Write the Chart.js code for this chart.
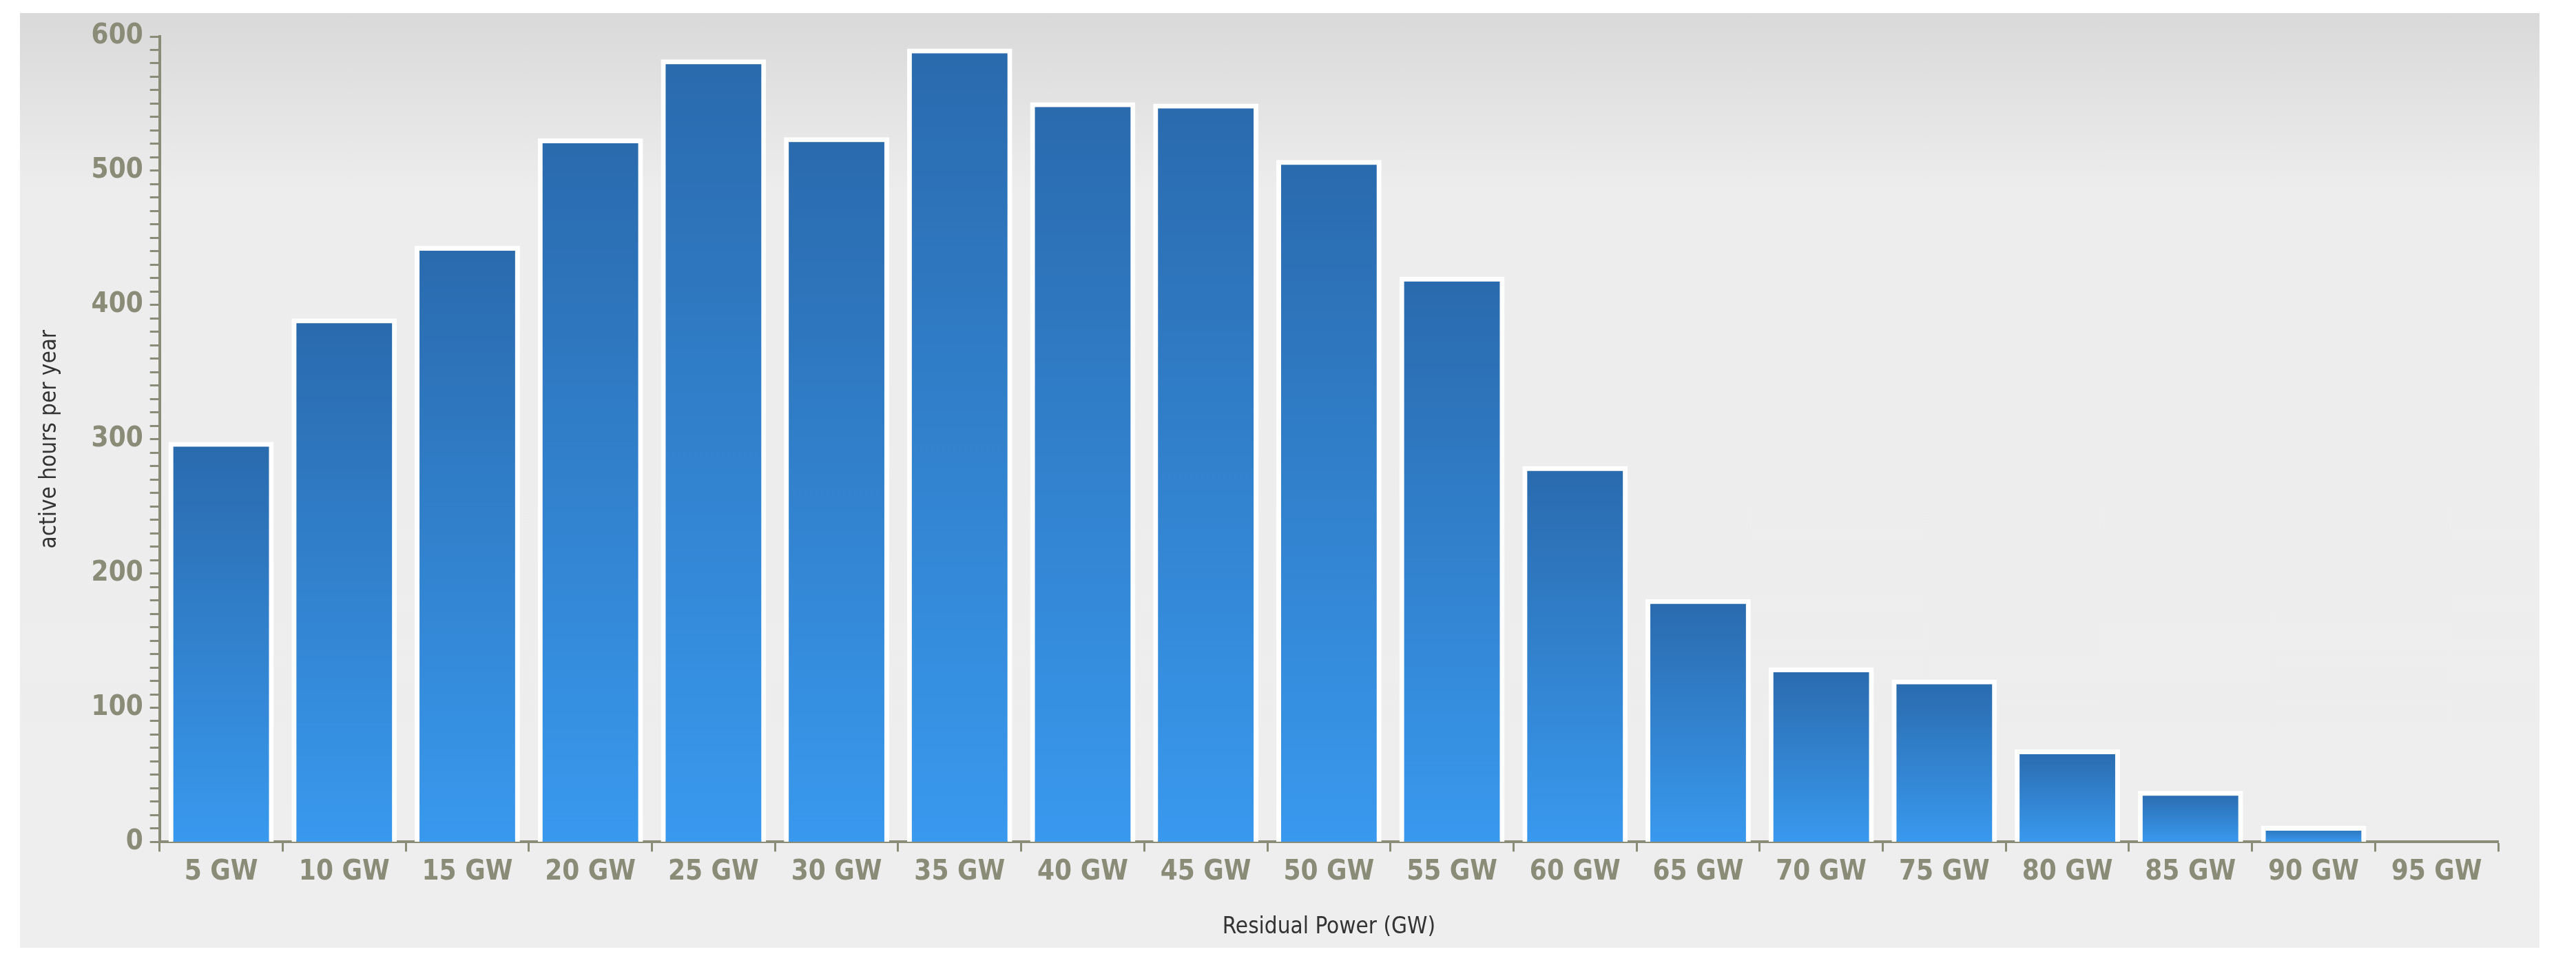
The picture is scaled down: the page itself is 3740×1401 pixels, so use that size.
<!DOCTYPE html>
<html>
<head>
<meta charset="utf-8">
<script src="https://cdn.jsdelivr.net/npm/chart.js@4"></script>
<style>
  html, body { margin: 0; padding: 0; background: #ffffff; }
  #panel {
    position: absolute; left: 29px; top: 19px; width: 3658px; height: 1357px;
    background: linear-gradient(to bottom, #d9d9d9 0px, #ededed 260px, #eeeeee 100%);
  }
  #residualChart { width: 3658px; height: 1357px; display: block; }
</style>
</head>
<body>
<div id="panel"><canvas id="residualChart" width="3658" height="1357"></canvas></div>
<script>
// Données
const categories = ['5 GW','10 GW','15 GW','20 GW','25 GW','30 GW','35 GW','40 GW','45 GW','50 GW',
                    '55 GW','60 GW','65 GW','70 GW','75 GW','80 GW','85 GW','90 GW','95 GW'];
const activeHours = [298, 390, 444, 524, 583, 525, 591, 551, 550, 508,
                     421, 280, 181, 130, 121, 69, 38, 12, 0];

const axisColor = '#8a8c78';

const ctx = document.getElementById('residualChart').getContext('2d');
const chart = new Chart(ctx, {
    type: 'bar',
    data: {
        labels: categories,
        datasets: [{
            data: activeHours,
            // dégradé vertical propre à chaque barre
            backgroundColor: function(c) {
                const el = c.chart.getDatasetMeta(0).data[c.dataIndex];
                if (!el || !isFinite(el.y) || !isFinite(el.base) || el.base - el.y < 1) return '#3898ec';
                const g = c.chart.ctx.createLinearGradient(0, el.y, 0, el.base);
                g.addColorStop(0, '#2a6aad');
                g.addColorStop(1, '#3999ee');
                return g;
            },
            borderColor: '#ffffff',
            borderWidth: 7,
            borderSkipped: 'bottom',
            categoryPercentage: 0.9,
            barPercentage: 0.95
        }]
    },
    options: {
        responsive: false,
        animation: false,
        devicePixelRatio: 1,
        layout: { padding: { left: 20, right: 60, top: 30, bottom: 10 } },
        plugins: { legend: { display: false }, tooltip: { enabled: false } },
        scales: {
            x: {
                grid: { drawOnChartArea: false, tickLength: 14, tickColor: axisColor, tickWidth: 3 },
                border: { color: axisColor, width: 4 },
                ticks: { color: axisColor, font: { family: 'DejaVu Sans Condensed', weight: 'bold', size: 40 }, padding: 6, maxRotation: 0, autoSkip: false },
                title: { display: true, text: 'Residual Power (GW)', color: '#333333',
                         font: { family: 'DejaVu Sans Condensed', size: 33 }, padding: { top: 30, bottom: 0 } }
            },
            y: {
                min: 0, max: 600,
                grid: { drawOnChartArea: false, tickLength: 14, tickColor: axisColor, tickWidth: 3 },
                border: { color: axisColor, width: 4 },
                ticks: {
                    stepSize: 10, autoSkip: false,
                    color: axisColor, font: { family: 'DejaVu Sans Condensed', weight: 'bold', size: 40 }, padding: 10,
                    callback: v => (v % 100 === 0 ? v : '')
                },
                title: { display: true, text: 'active hours per year', color: '#333333',
                         font: { family: 'DejaVu Sans Condensed', size: 33 }, padding: { bottom: 30 } }
            }
        }
    }
});
// second passage : les barres existent, le dégradé peut être calculé
chart.update();
</script>
</body>
</html>
